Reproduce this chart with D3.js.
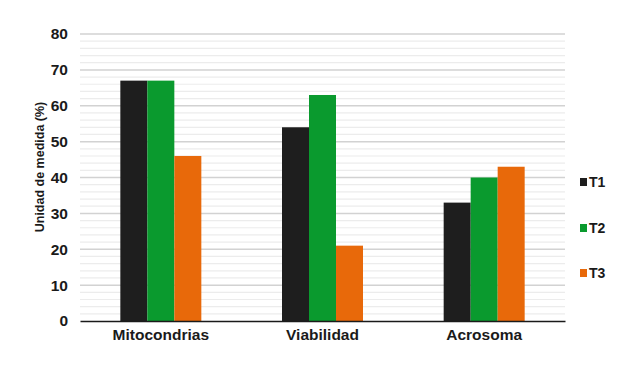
<!DOCTYPE html>
<html lang="es">
<head>
    <meta charset="UTF-8">
    <title>Unidad de medida</title>
    <script src="https://cdn.jsdelivr.net/npm/d3@7/dist/d3.min.js"></script>
    <style>
        body { margin: 0; background: #fff; }
        text { font-family: "Liberation Sans", Arial, sans-serif; font-weight: bold; fill: #1a1a1a; }
    </style>
</head>
<body>
    <div id="chart"></div>
    <script>
        // data
        const categories = ["Mitocondrias", "Viabilidad", "Acrosoma"];
        const seriesNames = ["T1", "T2", "T3"];
        const t1 = [67, 54, 33];
        const t2 = [67, 63, 40];
        const t3 = [46, 21, 43];
        const yTicks = [0, 10, 20, 30, 40, 50, 60, 70, 80];
        const colors = ["#1e1e1e", "#0a9a2e", "#e8690a"];

        const W = 631, H = 365;
        const margin = { top: 34, right: 66, bottom: 44, left: 80 };
        const width = W - margin.left - margin.right;
        const height = H - margin.top - margin.bottom;

        const svg = d3.select("#chart")
            .append("svg")
            .attr("width", W)
            .attr("height", H);

        const g = svg.append("g")
            .attr("transform", `translate(${margin.left},${margin.top})`);

        const x = d3.scaleBand()
            .domain(categories)
            .range([0, width]);

        const groupW = 81;
        const xs = d3.scaleBand()
            .domain(seriesNames)
            .range([(x.bandwidth() - groupW) / 2, (x.bandwidth() + groupW) / 2]);

        const y = d3.scaleLinear()
            .domain([0, 80])
            .range([height, 0]);

        // minor gridlines every 2
        g.append("g")
            .selectAll("line")
            .data(d3.range(2, 80, 2).filter(v => v % 10 !== 0))
            .join("line")
            .attr("x1", 0)
            .attr("x2", width)
            .attr("y1", d => y(d))
            .attr("y2", d => y(d))
            .style("stroke", "#ececec")
            .style("stroke-width", 1.2);

        // major gridlines
        g.append("g")
            .selectAll("line")
            .data(yTicks.filter(v => v > 0))
            .join("line")
            .attr("x1", 0)
            .attr("x2", width)
            .attr("y1", d => y(d))
            .attr("y2", d => y(d))
            .style("stroke", "#d2d2d2")
            .style("stroke-width", 1.5);

        // y tick labels
        const yAxis = g.append("g")
            .call(d3.axisLeft(y).tickValues(yTicks).tickSize(0).tickPadding(12));
        yAxis.select(".domain").remove();
        yAxis.selectAll("text")
            .style("font-size", "15.5px")
            .style("font-family", "'Liberation Sans', Arial, sans-serif")
            .style("font-weight", "bold")
            .attr("fill", "#1a1a1a");

        // bars
        const table = categories.map((c, i) => ({ cat: c, vals: [t1[i], t2[i], t3[i]] }));
        const groups = g.selectAll(".grp")
            .data(table)
            .join("g")
            .attr("class", "grp")
            .attr("transform", d => `translate(${x(d.cat)},0)`);

        groups.selectAll("rect")
            .data(d => d.vals.map((v, j) => ({ s: seriesNames[j], v: v, c: colors[j] })))
            .join("rect")
            .attr("x", d => xs(d.s))
            .attr("width", xs.bandwidth())
            .attr("y", d => y(d.v))
            .attr("height", d => y(0) - y(d.v))
            .style("fill", d => d.c);

        // x axis
        const xAxis = g.append("g")
            .attr("transform", `translate(0,${height})`)
            .call(d3.axisBottom(x).tickSize(0).tickPadding(8));
        xAxis.select(".domain")
            .style("stroke", "#1a1a1a")
            .style("stroke-width", 1.6);
        xAxis.selectAll("text")
            .style("font-size", "15.5px")
            .style("font-family", "'Liberation Sans', Arial, sans-serif")
            .style("font-weight", "bold")
            .attr("fill", "#1a1a1a");

        // y title
        svg.append("text")
            .attr("text-anchor", "middle")
            .attr("transform", `translate(44,167) rotate(-90)`)
            .style("font-size", "12.5px")
            .text("Unidad de medida (%)");

        // legend
        const legendY = [182, 228, 273];
        const legend = svg.append("g")
            .selectAll("g")
            .data(seriesNames)
            .join("g")
            .attr("transform", (d, i) => `translate(580,${legendY[i]})`);
        legend.append("rect")
            .attr("x", 0)
            .attr("y", -4)
            .attr("width", 7)
            .attr("height", 8)
            .style("fill", (d, i) => colors[i]);
        legend.append("text")
            .attr("x", 9)
            .attr("y", 5)
            .style("font-size", "14px")
            .text(d => d);
    </script>
</body>
</html>
